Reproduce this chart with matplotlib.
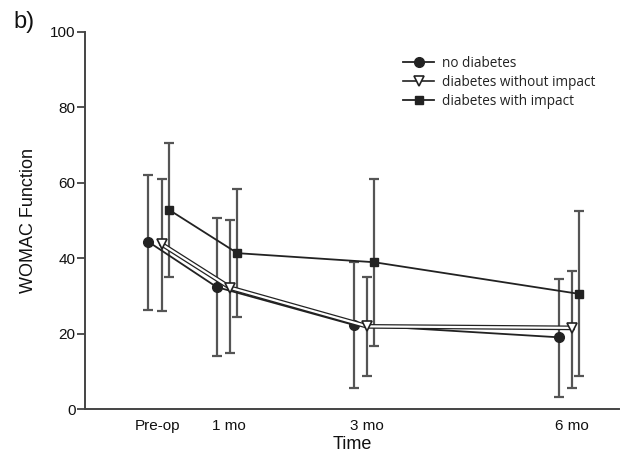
import matplotlib
matplotlib.use("Agg")
import matplotlib.pyplot as plt
import matplotlib.patheffects as pe

# ---- data ----
time_pos = [0, 1, 3, 6]
tick_labels = ["Pre-op", "1 mo", "3 mo", "6 mo"]

no_diab_mean = [44.3, 32.3, 22.3, 19.0]
no_diab_hi = [61.9, 50.6, 38.9, 34.5]
no_diab_lo = [26.3, 14.0, 5.7, 3.3]

wo_impact_mean = [43.6, 32.1, 21.9, 21.5]
wo_impact_hi = [61.0, 50.2, 34.9, 36.7]
wo_impact_lo = [26.1, 14.8, 8.8, 5.7]

w_impact_mean = [52.8, 41.3, 38.9, 30.5]
w_impact_hi = [70.6, 58.2, 61.0, 52.5]
w_impact_lo = [35.1, 24.4, 16.8, 8.8]

series_labels = ["no diabetes", "diabetes without impact", "diabetes with impact"]
offsets = [-0.2, 0.0, 0.1]

plt.rcParams['font.family'] = ['Liberation Sans', 'DejaVu Sans']

fig = plt.figure(figsize=(6.4, 4.65), dpi=100)
fig.patch.set_facecolor("white")
ax = fig.add_axes([0.133, 0.1204, 0.967 - 0.133, 0.932 - 0.1204])

line_c = "#222222"
err_c = "#555555"

data = [
    (no_diab_mean, no_diab_hi, no_diab_lo, "o", line_c, line_c, 7.0),
    (wo_impact_mean, wo_impact_hi, wo_impact_lo, "v", "white", line_c, 6.5),
    (w_impact_mean, w_impact_hi, w_impact_lo, "s", line_c, line_c, 6.3),
]

handles = []
for i, (m, hi, lo, mk, fc, ec, ms) in enumerate(data):
    xs = [t + offsets[i] for t in time_pos]
    yerr = [[mm - l for mm, l in zip(m, lo)], [h - mm for mm, h in zip(m, hi)]]
    ax.errorbar(xs, m, yerr=yerr, fmt="none", ecolor=err_c, elinewidth=1.6,
                capsize=3.8, capthick=1.6, zorder=2)
    if i == 1:
        ax.plot(xs, m, color="white", lw=1.6, zorder=3 + i,
                path_effects=[pe.Stroke(linewidth=3.4, foreground=line_c), pe.Normal()])
        ax.plot(xs, m, linestyle="none", marker=mk, markersize=ms,
                markerfacecolor=fc, markeredgecolor=ec, markeredgewidth=1.2,
                zorder=3.5 + i)
        h, = ax.plot([], [], color=line_c, lw=1.2, marker=mk, markersize=ms,
                     markerfacecolor=fc, markeredgecolor=ec, markeredgewidth=1.2)
    else:
        h, = ax.plot(xs, m, color=line_c, lw=1.3, marker=mk, markersize=ms,
                     markerfacecolor=fc, markeredgecolor=ec, zorder=3 + i)
    handles.append(h)

ax.set_xlim(-1.126, 6.68)
ax.set_ylim(0, 100)
ax.set_yticks([0, 20, 40, 60, 80, 100])
ax.set_xticks([-0.07, 0.97, 2.99, 5.99])
ax.set_xticklabels(tick_labels)

for s in ["top", "right"]:
    ax.spines[s].set_visible(False)
for s in ["left", "bottom"]:
    ax.spines[s].set_color("#444444")
    ax.spines[s].set_linewidth(1.4)

ax.tick_params(axis="y", length=5.5, width=1.3, color="#444444", pad=1.5,
               labelsize=11, labelcolor="#111111")
ax.tick_params(axis="x", length=0, pad=7, labelsize=11, labelcolor="#111111")

ax.set_xlabel("Time", fontsize=13, labelpad=2, color="#111111")
ax.set_ylabel("WOMAC Function", fontsize=13, labelpad=9, color="#111111")

leg = ax.legend(handles, series_labels, loc="upper left",
                bbox_to_anchor=(403 / 640, 1 - 56 / 465), bbox_transform=fig.transFigure,
                frameon=False, borderpad=0, borderaxespad=0, handlelength=2.3,
                handletextpad=0.6, labelspacing=0.3,
                prop={"family": "Open Sans", "size": 9.8})
for t in leg.get_texts():
    t.set_color("#222222")

fig.text(13 / 640, 1 - 22 / 465, "b)", fontsize=17, va="center", ha="left", color="#111111")

fig.savefig("out.png", dpi=100, facecolor="white")
